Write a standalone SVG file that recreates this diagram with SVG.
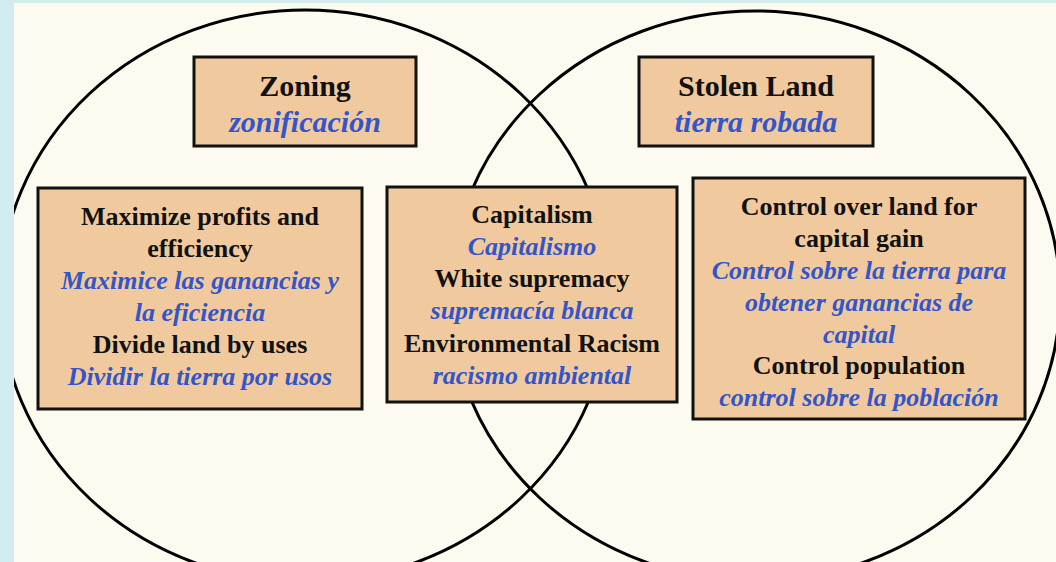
<svg xmlns="http://www.w3.org/2000/svg" width="1056" height="562" viewBox="0 0 1056 562">
  <style>
    .box { fill: #f0ca9e; stroke: #111; stroke-width: 3; }
    .ring { fill: none; stroke: #000; stroke-width: 3; }
    .en { font-family: "Liberation Serif", "Times New Roman", serif; font-weight: bold; fill: #111; text-anchor: middle; }
    .es { font-family: "Liberation Serif", "Times New Roman", serif; font-weight: bold; font-style: italic; fill: #3355c8; text-anchor: middle; }
    .t { font-size: 30px; }
    .b { font-size: 26px; }
  </style>
  <defs>
    <clipPath id="panel">
      <rect x="14" y="3" width="1042" height="559"/>
    </clipPath>
  </defs>
  <rect x="0" y="0" width="1056" height="562" fill="#d3ecef"/>
  <rect x="14" y="3" width="1042" height="559" fill="#fdfbf0"/>
  <g id="venn" clip-path="url(#panel)">
    <ellipse class="ring" cx="305" cy="296" rx="305" ry="286"/>
    <ellipse class="ring" cx="755" cy="296" rx="305" ry="285"/>
  </g>
  <g id="zoning">
    <rect class="box" x="194" y="57" width="222" height="89"/>
    <text class="en t" x="305" y="96">Zoning</text>
    <text class="es t" x="305" y="132">zonificación</text>
  </g>
  <g id="stolen-land">
    <rect class="box" x="639" y="57" width="234" height="89"/>
    <text class="en t" x="756" y="96">Stolen Land</text>
    <text class="es t" x="756" y="132">tierra robada</text>
  </g>
  <g id="zoning-details">
    <rect class="box" x="38" y="188" width="324" height="221"/>
    <text class="en b" x="200" y="225">Maximize profits and</text>
    <text class="en b" x="200" y="257">efficiency</text>
    <text class="es b" x="200" y="289">Maximice las ganancias y</text>
    <text class="es b" x="200" y="321">la eficiencia</text>
    <text class="en b" x="200" y="353">Divide land by uses</text>
    <text class="es b" x="200" y="385">Dividir la tierra por usos</text>
  </g>
  <g id="shared">
    <rect class="box" x="387" y="187" width="290" height="215"/>
    <text class="en b" x="532" y="223">Capitalism</text>
    <text class="es b" x="532" y="255">Capitalismo</text>
    <text class="en b" x="532" y="287">White supremacy</text>
    <text class="es b" x="532" y="319">supremacía blanca</text>
    <text class="en b" x="532" y="352">Environmental Racism</text>
    <text class="es b" x="532" y="384">racismo ambiental</text>
  </g>
  <g id="stolen-land-details">
    <rect class="box" x="693" y="178" width="332" height="241"/>
    <text class="en b" x="859" y="215">Control over land for</text>
    <text class="en b" x="859" y="247">capital gain</text>
    <text class="es b" x="859" y="279">Control sobre la tierra para</text>
    <text class="es b" x="859" y="311">obtener ganancias de</text>
    <text class="es b" x="859" y="343">capital</text>
    <text class="en b" x="859" y="374">Control population</text>
    <text class="es b" x="859" y="406">control sobre la población</text>
  </g>
  <g id="connectors"/>
</svg>
